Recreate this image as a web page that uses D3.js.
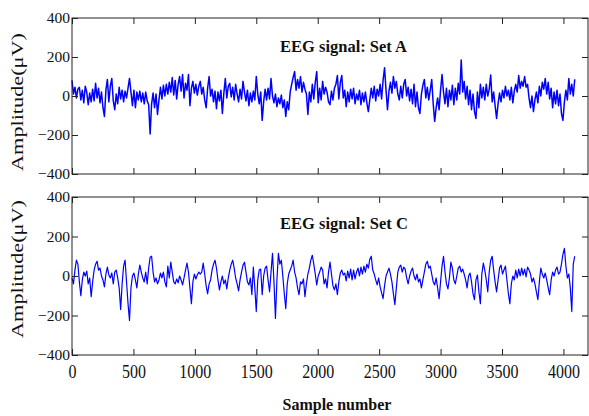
<!DOCTYPE html>
<html>
<head>
<meta charset="utf-8">
<script src="https://cdn.jsdelivr.net/npm/d3@7"></script>
<style>
    body { margin: 0; background: #fff; }
    svg text { font-family: "Liberation Serif", "Times New Roman", serif; fill: #111; }
</style>
</head>
<body>
<div id="chart"></div>
<script>
// Values, one every 12 samples (µV)
const sampleStep = 12;

const setA = [
    80, 10, 45, -10, 35, 45, -20, 30, -35, 50,
    20, -45, 15, -30, 35, -25, 65, -10, 40, -35,
    20, -60, -105, 30, 85, -30, 50, 90, -25, -70,
    10, -40, 45, -15, 30, -30, 25, -10, 40, 90,
    20, -50, 30, -60, 20, -20, 25, -30, 15, -40,
    20, -25, -45, -195, -40, 15, -60, 10, -95, -20,
    45, -15, 55, 0, 60, 10, 70, 20, 95, 5,
    80, -15, 60, 100, 25, 110, -10, 65, 30, 110,
    -50, 40, 75, 15, 60, 5, 50,
    75, 10, 45, -20, -60, 40, 100, 0, 35, -30,
    25, -65, 20, -25, 30, -90, 15, 90, -10, 50,
    65, -5, 45, -20, 60, 10, -30, 35, -15, 75,
    20, -25, 30, -50, 15, -30, 25, -20, 100, 10,
    -40, 20, -125, -30, 35, -20, 40, -15, 90, 0,
    -35, 10, -55, -10, -40, 5, -60, -20, -105, -30,
    -70, 20, 60, 95, 125, 30, 85, 40, 100, 20,
    70, 35, 10, -95, 20, -30, 60, -15, 70, 125,
    -35, 40, -20, 75, 10, 45,
    20, -30, -45, 25, -20, 40, 60, 105, -15, 70,
    105, -10, 30, -55, 20, -30, 35, -15, 40, -40,
    10, -20, 30, -45, 15, -30, 20, -35, -80, -20,
    40, -10, 50, -25, 35, 0, 60, -15, 80, 145,
    30, -70, 25, 70, 15, 100, 40, 75, 10, -20,
    50, -10, 60, 85, 0, 45, -25, 35, -40, 60,
    -55, 20, -60, -90, 10, 55, 85, -10, 45, -20,
    30, 85, -40, -130, -60, -10, -70, 30, 110, 20,
    -40, 40, -55, 30, -20, 55, -45,
    40, -20, 65, 10, 185, 20, 75, -15, 50, -45,
    30, -70, 10, -80, -115, 20, -60, 60, -10, 45,
    -20, 60, 0, 35, 108, -30, 20, -50, -115, -40,
    15, -30, 30, -10, 50, 0, 30, -20, 45, -35,
    25, 60, 20, 105, 40, 75, 50, 100, 45, 60,
    -10, -60, 0, -80, -20, 20, -35, 50, 0, 70,
    35, 90, 10, 70, -15, 40, -60, 20, -40, 30,
    -50, 10, -90, -125, -30, 30, -20, 90, 10, 60,
    0, 85
];

const setC = [
    -10, -40, 30, 80, 60, -30, -100, -20, 20, 0,
    25, -40, -10, -105, -30, 30, 60, 75, 30, 40,
    0, -20, -55, 10, 45, 5, -10, 15, -40, 20,
    30, -10, -60, -170, -40, 50, 80, -30, -140, -225,
    -60, 0, 15, -20, -60, 10, 55, 20, -10, -30,
    20, -40, 40, 95, 100, 20, -30, -10, -40, -20,
    15, -10, 20, -30, -55, 50, -10, 70, 20, -30,
    -40, -15, -35, 0, -20, -45, -10, 30, 65, 20,
    -60, -140, -30, 10, -15, 5, 20,
    10, 20, 65, 10, -50, -90, -40, -20, 30, 60,
    80, 40, -20, -70, -30, 0, -40, -20, -65, -10,
    30, 60, 80, 40, -10, -40, -75, -20, 20, 55,
    70, 20, -30, -45, -10, -95, 45, -60, -180, -20,
    30, 35, -95, 0, 40, 50, -20, -80, 20, 115,
    -30, -215, -20, 115, 60, 80, 0, -90, -165, -40,
    10, 30, 50, 80, 20, -10, -60, -95, -30, -40,
    -15, -105, -40, 10, 40, 80, 105, 60, 10, -45,
    0, 20, 45, 30, -40, -15,
    -60, 20, 70, 10, -50, -70, -40, -95, -30, 15,
    30, 5, 15, -25, 25, -10, 35, -20, 30, -15,
    20, 40, 0, 45, 10, 50, 20, 60, 40, 85,
    100, 30, 10, -20, -45, -10, -55, -85, -115, -50,
    0, 20, 40, 10, -30, -90, -145, -60, 20, 45,
    55, 20, 45, 35, -10, -40, 0, 25, 40, 0,
    -20, 10, -30, -15, -60, -20, 20, 60, 75, 40,
    50, 10, -30, -45, -10, -60, -115, -30, 50, 100,
    20, -40, -65, -10, 70, 40, -20,
    -40, 0, 40, 50, 20, 35, 10, -20, -60, 0,
    15, -30, -90, -120, -20, 5, -80, -140, 10, 65,
    30, -20, -80, 20, 80, 100, 30, -30, -80, -20,
    40, 55, 10, 30, 50, -20, -90, -140, -40, 0,
    -20, 30, -10, 35, 0, 40, 5, 35, -5, 45,
    30, 10, -30, -10, -40, -80, -120, -30, 40, 10,
    -10, 15, -20, -60, -95, -20, 20, 0, 30, 45,
    10, 20, 60, 110, 140, 50, -10, 10, -60, -180,
    60, 100
];

const xTicks = [0, 500, 1000, 1500, 2000, 2500, 3000, 3500, 4000];
const yTicks = [-400, -200, 0, 200, 400];
const titles = ["EEG signal: Set A", "EEG signal: Set C"];
const yLabel = "Amplitude(\u03bcV)";
const xLabel = "Sample number";

const width = 589, height = 416;
const left = 72, right = 588;

const svg = d3.select("#chart")
    .append("svg")
    .attr("width", width)
    .attr("height", height);

const x = d3.scaleLinear().domain([0, 4200]).range([left, right]);

const panels = [
    { data: setA, title: titles[0], top: 18, bottom: 174, titleY: 51.5, labelY: 102, lineWidth: 1.5 },
    { data: setC, title: titles[1], top: 197, bottom: 355, titleY: 228.5, labelY: 269, lineWidth: 1.2 }
];

function styleAxis(g) {
    g.select(".domain").remove();
    g.selectAll(".tick line").attr("stroke", "#222");
    g.attr("font-family", null).attr("font-size", null);
}

function drawPanel(p, withXLabels) {
    const y = d3.scaleLinear().domain([-400, 400]).range([p.bottom, p.top]);
    const g = svg.append("g");

    // signal
    const line = d3.line()
        .x((d, i) => x(i * sampleStep))
        .y(d => y(d));

    g.append("path")
        .datum(p.data)
        .attr("d", line)
        .attr("fill", "none")
        .attr("stroke", "#0000ff")
        .attr("stroke-width", p.lineWidth)
        .attr("stroke-linejoin", "round");

    // inward ticks on all four sides
    g.append("g")
        .attr("transform", `translate(0,${p.bottom})`)
        .call(d3.axisBottom(x).tickValues(xTicks).tickSizeInner(-6).tickSizeOuter(0)
            .tickFormat(withXLabels ? d3.format("d") : ""))
        .call(styleAxis)
        .selectAll("text")
        .attr("dy", null)
        .attr("y", 19)
        .attr("transform", "scale(1,1.2)")
        .attr("font-size", "16px");

    g.append("g")
        .attr("transform", `translate(0,${p.top})`)
        .call(d3.axisTop(x).tickValues(xTicks).tickSizeInner(-6).tickSizeOuter(0).tickFormat(""))
        .call(styleAxis);

    g.append("g")
        .attr("transform", `translate(${left},0)`)
        .call(d3.axisLeft(y).tickValues(yTicks).tickSizeInner(-6).tickSizeOuter(0).tickPadding(2))
        .call(styleAxis)
        .selectAll("text")
        .attr("font-size", "15.5px");

    g.append("g")
        .attr("transform", `translate(${right},0)`)
        .call(d3.axisRight(y).tickValues(yTicks).tickSizeInner(-6).tickSizeOuter(0).tickFormat(""))
        .call(styleAxis);

    // frame
    g.append("rect")
        .attr("x", left)
        .attr("y", p.top)
        .attr("width", right - left)
        .attr("height", p.bottom - p.top)
        .attr("fill", "none")
        .attr("stroke", "#222")
        .attr("stroke-width", 1);

    g.append("text")
        .attr("x", 280)
        .attr("y", p.titleY)
        .attr("font-size", "16.5px")
        .attr("font-weight", "bold")
        .text(p.title);

    g.append("text")
        .attr("transform", `translate(23,${p.labelY}) rotate(-90)`)
        .attr("text-anchor", "middle")
        .attr("font-size", "17px")
        .attr("textLength", 138)
        .attr("lengthAdjust", "spacingAndGlyphs")
        .text(yLabel);
}

panels.forEach((p, i) => drawPanel(p, i === panels.length - 1));

svg.append("text")
    .attr("x", 337)
    .attr("y", 410)
    .attr("text-anchor", "middle")
    .attr("font-size", "16px")
    .attr("font-weight", "bold")
    .text(xLabel);
</script>
</body>
</html>
